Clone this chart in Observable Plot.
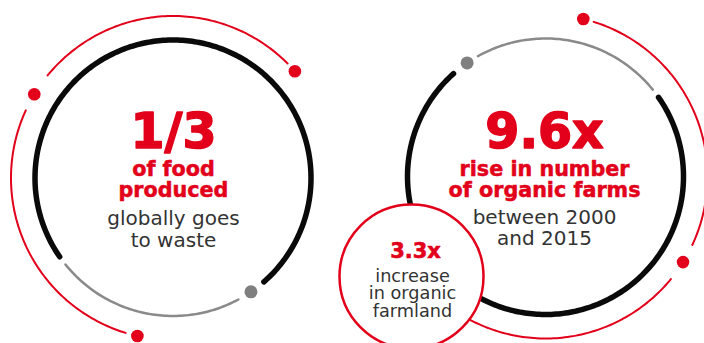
<!DOCTYPE html>
<html>
<head>
<meta charset="utf-8">
<script src="https://cdn.jsdelivr.net/npm/d3@7"></script>
<script src="https://cdn.jsdelivr.net/npm/@observablehq/plot@0.6"></script>
<style>
  html, body { margin: 0; padding: 0; background: #fff; }
  #chart svg { display: block; }
</style>
</head>
<body>
<div id="chart"></div>
<script>
// ---- content (data) ----
const statValues = ["1/3", "9.6x", "3.3x"];
const statHeadlines = ["of food\nproduced", "rise in number\nof organic farms", ""];
const statDetails = ["globally goes\nto waste", "between 2000\nand 2015", "increase\nin organic\nfarmland"];

// ---- layout & style (not data) ----
const W = 704, H = 343;
const RED = "#e2001a", BLACK = "#0a0a0a", GRAY = "#8a8a8a", INK = "#333333";
const BOLD_FONT = "'DejaVu Sans', Lato, sans-serif";
const LIGHT_FONT = "'DejaVu Sans', 'Open Sans', sans-serif";

const rings = [
  { cx: 172.5, cy: 177.5, r: 138, ro: 162,
    black: [[145.2, 408.8]], gray: [[61.7, 141.2]], grayDot: [55.6],
    red: [[-140.7, -45], [107, 204.7]], redDot: [-41.2, 211.1, 102.7] },
  { cx: 545, cy: 176, r: 138, ro: 162,
    black: [[-35, 228.2]], gray: [[-119.3, -39]], grayDot: [-124.6],
    red: [[-72.7, 25], [39.3, 125]], redDot: [-76.5, 31.9] }
];
const small = { cx: 411, cy: 276, r: 72 };

const rad = Math.PI / 180;
function arcPts(ring, radius, spans, kind) {
  const pts = [];
  spans.forEach(([a0, a1], k) => {
    const n = Math.max(2, Math.ceil(Math.abs(a1 - a0)));
    for (let i = 0; i <= n; ++i) {
      const a = (a0 + (a1 - a0) * i / n) * rad;
      pts.push({ id: kind + k + ring.cx, x: ring.cx + radius * Math.cos(a), y: ring.cy + radius * Math.sin(a) });
    }
  });
  return pts;
}
function dotPts(ring, radius, angles) {
  return angles.map(a => ({ x: ring.cx + radius * Math.cos(a * rad), y: ring.cy + radius * Math.sin(a * rad) }));
}

const blackArcs = rings.flatMap(g => arcPts(g, g.r, g.black, "b"));
const grayArcs = rings.flatMap(g => arcPts(g, g.r, g.gray, "g"));
const redArcs = rings.flatMap(g => arcPts(g, g.ro, g.red, "r"));
const grayDots = rings.flatMap(g => dotPts(g, g.r, g.grayDot));
const redDots = rings.flatMap(g => dotPts(g, g.ro, g.redDot));

// text blocks: [text, x, first baseline, fontSize, lineHeight(px), weight, fill, font, outline]
const textBlocks = [
  [statValues[0], 173, 147, 49, 49, 700, RED, BOLD_FONT, 1.6],
  [statHeadlines[0], 173, 175, 20.7, 22, 700, RED, BOLD_FONT, 0.5],
  [statDetails[0], 173, 224, 20, 23, 400, INK, LIGHT_FONT, 0],
  [statValues[1], 544, 147, 49, 49, 700, RED, BOLD_FONT, 1.6],
  [statHeadlines[1], 544, 175, 20.7, 22, 700, RED, BOLD_FONT, 0.5],
  [statDetails[1], 544, 223, 20, 22, 400, INK, LIGHT_FONT, 0],
  [statValues[2], 415, 257, 21, 21, 700, RED, BOLD_FONT, 0.6],
  [statDetails[2], 412, 281, 17.7, 18, 400, INK, LIGHT_FONT, 0]
].filter(d => d[0]).map(([text, x, base, size, lhPx, weight, fill, font, outline]) => {
  const lh = lhPx / size;
  return { text, x, y: base - 0.71 * lh * size, size, lh, weight, fill, font, outline };
});

const textMarks = textBlocks.map(b => Plot.text([b], {
  x: "x", y: "y", text: "text", textAnchor: "middle", lineAnchor: "top",
  lineHeight: b.lh, fontSize: b.size, fontWeight: b.weight, fill: b.fill, fontFamily: b.font,
  stroke: b.outline ? b.fill : undefined, strokeWidth: b.outline || undefined,
  strokeLinejoin: "round", paintOrder: "stroke"
}));

const chart = Plot.plot({
  width: W, height: H, margin: 0,
  x: { domain: [0, W], range: [0, W], axis: null },
  y: { domain: [0, H], range: [0, H], axis: null },
  style: { background: "#fff", overflow: "hidden" },
  marks: [
    Plot.line(redArcs, { x: "x", y: "y", z: "id", stroke: RED, strokeWidth: 2, strokeLinecap: "round" }),
    Plot.line(grayArcs, { x: "x", y: "y", z: "id", stroke: GRAY, strokeWidth: 2.5, strokeLinecap: "round" }),
    Plot.line(blackArcs, { x: "x", y: "y", z: "id", stroke: BLACK, strokeWidth: 5.5, strokeLinecap: "round" }),
    Plot.dot(grayDots, { x: "x", y: "y", r: 6.5, fill: "#7f7f7f" }),
    Plot.dot(redDots, { x: "x", y: "y", r: 6.3, fill: RED }),
    Plot.dot([small], { x: "cx", y: "cy", r: small.r, fill: "#fff", stroke: RED, strokeWidth: 2.5 }),
    ...textMarks
  ]
});
document.getElementById("chart").append(chart);
</script>
</body>
</html>
